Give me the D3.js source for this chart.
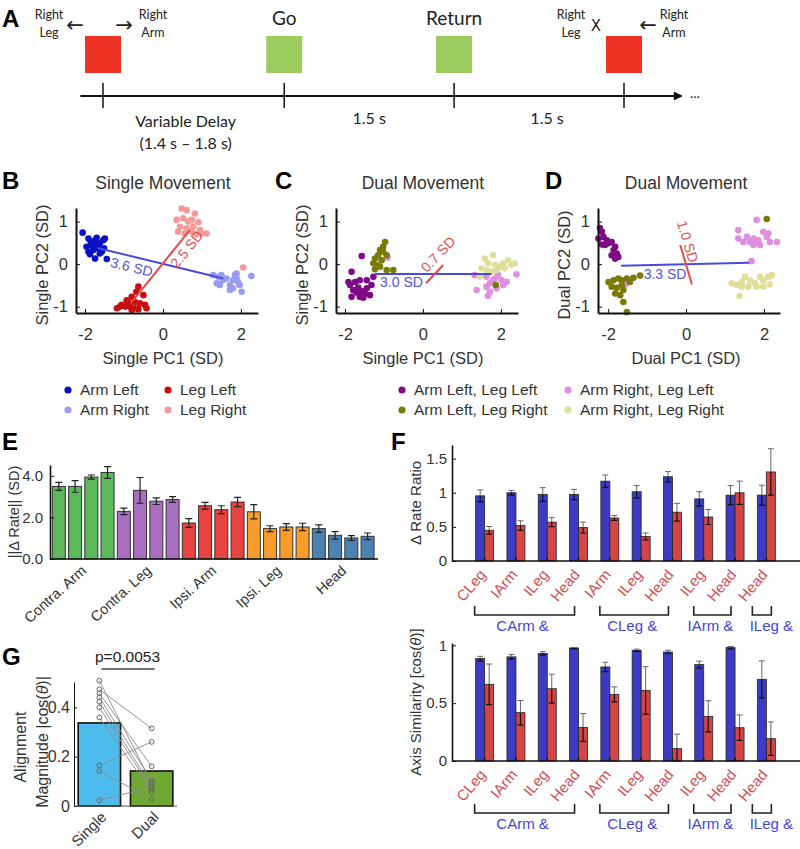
<!DOCTYPE html>
<html>
<head>
<meta charset="utf-8">
<script src="https://cdn.jsdelivr.net/npm/d3@7"></script>
<style>
  body { margin: 0; background: #fff; }
  text { font-family: "Liberation Sans", Arial, sans-serif; fill: #333; }
  .calib { font-family: Lato, "Open Sans", sans-serif; fill: #222; }
  .letter { font-family: "Liberation Sans", Arial, sans-serif; font-weight: bold; font-size: 24px; fill: #000; }
</style>
</head>
<body>
<svg id="fig" width="800" height="849"></svg>
<script>
// ---------------- data ----------------

// A: trial timeline (seconds)
var eventTimes = [0, 1.6, 3.1, 4.6]
var eventNames = ['', 'Go', 'Return', '']
var eventCues = ['red', 'green', 'green', 'red']
var intervalLabels = [['Variable Delay', '(1.4 s \u2013 1.8 s)'], ['1.5 s'], ['1.5 s']]

// B: single movement, single PCs
var bArmLeft = [[-2.06,0.74],[-1.91,0.60],[-1.85,0.52],[-1.74,0.56],[-1.70,0.45],[-1.62,0.49],[-1.53,0.56],[-1.49,0.60],[-1.66,0.37],[-1.79,0.33],[-1.91,0.29],[-1.87,0.23],[-1.74,0.13],[-1.44,0.12],[-1.57,0.29],[-1.51,0.37],[-1.96,0.41],[-1.83,0.45],[-1.62,0.25],[-1.70,0.62]]
var bArmRight = [[1.29,-0.26],[1.42,-0.30],[1.50,-0.26],[1.63,-0.34],[1.38,-0.45],[1.46,-0.49],[1.72,-0.49],[1.85,-0.26],[1.89,-0.34],[1.93,-0.42],[1.97,-0.49],[1.80,-0.57],[2.02,-0.65],[1.72,-0.61],[2.27,-0.28],[1.89,-0.22],[1.54,-0.38],[1.80,-0.38]]
var bLegLeft = [[-0.63,-0.53],[-0.68,-0.65],[-0.50,-0.73],[-0.80,-0.77],[-0.93,-0.85],[-0.72,-0.89],[-0.59,-0.92],[-0.46,-0.96],[-1.06,-0.96],[-0.97,-1.00],[-0.85,-1.00],[-0.72,-1.04],[-0.80,-1.08],[-0.63,-1.06],[-1.10,-1.00],[-0.89,-0.90],[-0.42,-1.04],[-1.18,-1.04]]
var bLegRight = [[0.48,1.31],[0.61,1.27],[0.82,1.19],[0.35,1.04],[0.52,1.08],[0.65,1.00],[0.74,1.04],[0.91,0.99],[0.44,0.88],[0.61,0.84],[0.78,0.88],[0.95,0.80],[1.12,0.72],[0.39,0.76],[0.56,0.72],[0.74,0.76],[0.86,0.70],[0.99,0.72],[2.06,-0.08]]
var bArmAxis = [[-1.68,0.38],[1.55,-0.34]]
var bLegAxis = [[-0.78,-0.87],[0.69,0.80]]
var bArmLabel = {text: '3.6 SD', at: [-0.80,-0.07]}
var bLegLabel = {text: '2.5 SD', at: [0.61,0.35]}

// C: dual movement, single PCs
var cArmLLegL = [[-1.57,0.19],[-1.83,-0.18],[-1.91,-0.42],[-1.87,-0.49],[-1.74,-0.42],[-1.62,-0.38],[-1.44,-0.38],[-1.32,-0.49],[-1.79,-0.61],[-1.70,-0.67],[-1.57,-0.64],[-1.49,-0.69],[-1.62,-0.77],[-1.83,-0.77],[-1.36,-0.73],[-1.53,-0.79],[-1.27,-0.30],[-1.66,-0.55],[-1.44,-0.57]]
var cArmLLegR = [[-0.97,0.52],[-1.02,0.41],[-1.10,0.33],[-1.15,0.21],[-1.23,0.13],[-1.06,0.09],[-1.19,-0.02],[-1.27,0.02],[-1.10,-0.06],[-0.93,-0.14],[-0.76,-0.14],[-0.93,0.21],[-1.02,0.29],[-1.23,-0.12],[1.87,-0.49]]
var cArmRLegL = [[1.33,-0.26],[1.63,-0.30],[1.85,-0.34],[1.93,-0.26],[2.02,-0.38],[1.72,-0.45],[1.63,-0.53],[1.89,-0.57],[2.06,-0.49],[1.38,-0.61],[1.72,-0.65],[1.67,-0.75],[2.40,-0.24],[2.15,-0.42],[1.80,-0.38],[-0.91,0.15]]
var cArmRLegR = [[1.59,0.13],[1.80,0.21],[1.67,0.02],[1.85,-0.02],[1.97,-0.06],[2.06,0.02],[2.19,0.09],[2.27,-0.02],[2.36,0.02],[2.10,-0.10],[1.50,-0.10],[1.63,-0.14],[1.46,-0.30],[1.76,-0.18],[1.89,-0.14]]
var cArmAxis = [[-1.23,-0.235],[1.76,-0.235]]
var cLegAxis = [[0.08,-0.45],[0.52,-0.02]]
var cArmLabel = {text: '3.0 SD', at: [-0.55,-0.43]}
var cLegLabel = {text: '0.7 SD', at: [0.39,0.23]}

// D: dual movement, dual PCs
var dArmLLegL = [[-2.21,0.85],[-2.16,0.76],[-2.25,0.60],[-2.12,0.64],[-2.03,0.56],[-1.99,0.49],[-1.91,0.52],[-1.82,0.41],[-1.86,0.33],[-1.78,0.25],[-1.91,0.21],[-1.74,0.17],[-1.82,0.13],[-2.08,0.45],[-2.16,0.46]]
var dArmLLegR = [[-1.99,-0.42],[-1.86,-0.38],[-1.74,-0.34],[-1.65,-0.38],[-1.52,-0.34],[-1.35,-0.32],[-1.18,-0.27],[-1.91,-0.53],[-1.78,-0.56],[-1.65,-0.49],[-1.61,-0.61],[-1.82,-0.69],[-1.69,-0.73],[-1.61,-0.89],[-1.44,-0.42],[-1.52,-1.13],[2.07,1.06]]
var dArmRLegL = [[1.34,0.80],[1.81,1.04],[1.56,0.64],[1.73,0.60],[1.85,0.56],[1.98,0.76],[2.11,0.72],[2.07,0.64],[1.34,0.60],[1.47,0.52],[1.64,0.52],[1.81,0.49],[1.90,0.45],[2.15,0.52],[2.33,0.52],[1.73,0.45],[1.68,0.07],[-1.55,-0.48]]
var dArmRLegR = [[1.17,-0.45],[1.30,-0.49],[1.43,-0.42],[1.51,-0.30],[1.64,-0.38],[1.77,-0.45],[1.90,-0.30],[1.98,-0.38],[2.11,-0.30],[2.20,-0.26],[1.43,-0.53],[1.60,-0.53],[1.81,-0.53],[1.98,-0.53],[2.15,-0.48],[1.37,-0.75]]
var dArmAxis = [[-1.67,-0.04],[1.62,0.03]]
var dLegAxis = [[-0.15,0.45],[0.15,-0.48]]
var dArmLabel = {text: '3.3 SD', at: [-0.54,-0.24]}
var dLegLabel = {text: '1.0 SD', at: [0.04,0.53]}

var singleNames = ['Arm Left', 'Arm Right', 'Leg Left', 'Leg Right']
var dualNames = ['Arm Left, Leg Left', 'Arm Left, Leg Right', 'Arm Right, Leg Left', 'Arm Right, Leg Right']

// E: ||delta rate|| per effector group
var eGroups = ['Contra. Arm', 'Contra. Leg', 'Ipsi. Arm', 'Ipsi. Leg', 'Head']
var eMeans = [3.49,3.49,3.94,4.16, 2.29,3.30,2.78,2.86, 1.73,2.56,2.37,2.74, 2.27,1.46,1.54,1.54, 1.46,1.14,1.01,1.09]
var eErrs = [0.19,0.28,0.10,0.28, 0.16,0.62,0.16,0.14, 0.21,0.16,0.19,0.22, 0.34,0.14,0.16,0.18, 0.18,0.18,0.11,0.16]

// F: pairwise comparisons
var fPairs = ['CLeg','IArm','ILeg','Head','IArm','ILeg','Head','ILeg','Head','Head']
var fGroupNames = ['CArm &', 'CLeg &', 'IArm &', 'ILeg &']
var fGroupSpans = [[0,3],[4,6],[7,8],[9,9]]
var rateBlue = [0.955,1.0,0.975,0.975,1.17,1.015,1.235,0.91,0.965,0.965]
var rateBlueErr = [0.085,0.035,0.10,0.075,0.09,0.09,0.075,0.105,0.14,0.145]
var rateRed = [0.45,0.52,0.57,0.49,0.63,0.36,0.715,0.645,1.0,1.305]
var rateRedErr = [0.055,0.07,0.065,0.08,0.035,0.05,0.13,0.11,0.17,0.34]
var simBlue = [0.885,0.90,0.93,0.977,0.813,0.957,0.942,0.833,0.98,0.706]
var simBlueErr = [0.02,0.02,0.015,0.005,0.04,0.01,0.015,0.03,0.01,0.16]
var simRed = [0.663,0.418,0.625,0.29,0.576,0.61,0.107,0.386,0.288,0.193]
var simRedErr = [0.175,0.105,0.125,0.12,0.065,0.205,0.125,0.135,0.11,0.145]

// G: alignment magnitude
var gConds = ['Single', 'Dual']
var gMeans = [0.337, 0.142]
var gSingle = [0.508,0.473,0.457,0.441,0.423,0.400,0.359,0.165,0.142,0.023]
var gDual = [0.094,0.315,0.161,0.102,0.077,0.066,0.057,0.260,0.027,0.077]
var gPvalue = 'p=0.0053'

// ---------------- drawing ----------------

var svg = d3.select('#fig')

function letter(t, x, y) {
    svg.append('text').attr('class', 'letter').attr('x', x).attr('y', y).text(t)
}

// matlab style axis: inward ticks, no outer ticks
function styleAxis(g, width) {
    g.select('.domain').attr('stroke', '#111').attr('stroke-width', width || 1.6)
    g.selectAll('.tick line').attr('stroke', '#111')
    g.selectAll('.tick text').attr('fill', '#333').attr('font-family', '"Liberation Sans", Arial, sans-serif')
}

function rotLabel(x, y, t, size) {
    return svg.append('text')
        .attr('transform', 'translate(' + x + ',' + y + ') rotate(-90)')
        .attr('text-anchor', 'middle').attr('dy', '0.35em')
        .style('font-size', size + 'px').text(t)
}

// ----- A -----
letter('A', 2, 27)
var tx = d3.scaleLinear().domain([0, 4.6]).range([103, 624])
var lineY = 96
svg.append('line').attr('x1', tx(-0.2)).attr('x2', tx(5.12) - 6)
    .attr('y1', lineY).attr('y2', lineY).attr('stroke', '#111').attr('stroke-width', 2)
svg.append('path')
    .attr('d', 'M' + tx(5.12) + ',' + lineY + 'l-9,-4.5l0,9z').attr('fill', '#111')
svg.append('text').attr('class', 'calib').attr('x', tx(5.12) + 7).attr('y', lineY + 2)
    .style('font-size', '14px').text('...')

svg.selectAll('.evtick').data(eventTimes).enter().append('line')
    .attr('x1', function (d) { return tx(d) }).attr('x2', function (d) { return tx(d) })
    .attr('y1', lineY - 13).attr('y2', lineY + 12).attr('stroke', '#111').attr('stroke-width', 1.5)

svg.selectAll('.cue').data(eventTimes).enter().append('rect')
    .attr('x', function (d) { return tx(d) - 18 }).attr('y', 36)
    .attr('width', 36).attr('height', 37)
    .attr('fill', function (d, i) { return eventCues[i] === 'red' ? '#ee3224' : '#9ccb5e' })

svg.selectAll('.evname').data(eventTimes).enter().append('text')
    .attr('class', 'calib').attr('x', function (d) { return tx(d) }).attr('y', 25)
    .attr('text-anchor', 'middle').style('font-size', '19px')
    .text(function (d, i) { return eventNames[i] })

intervalLabels.forEach(function (lines, i) {
    var mid = (tx(eventTimes[i]) + tx(eventTimes[i + 1])) / 2 + [-8, 0, 8][i]
    lines.forEach(function (l, j) {
        svg.append('text').attr('class', 'calib').attr('x', mid).attr('y', (i === 0 ? 127 : 124) + j * 22)
            .attr('text-anchor', 'middle').style('font-size', '16px').text(l)
    })
})

// cue instruction labels
function cueText(x, l1, l2) {
    svg.append('text').attr('class', 'calib').attr('x', x).attr('y', 19).attr('text-anchor', 'middle').style('font-size', '12.5px').text(l1)
    svg.append('text').attr('class', 'calib').attr('x', x).attr('y', 37).attr('text-anchor', 'middle').style('font-size', '12.5px').text(l2)
}
cueText(tx(eventTimes[0]) - 54, 'Right', 'Leg')
cueText(tx(eventTimes[0]) + 50, 'Right', 'Arm')
cueText(tx(eventTimes[3]) - 53, 'Right', 'Leg')
cueText(tx(eventTimes[3]) + 50, 'Right', 'Arm')
function sym(x, t, size, y) {
    svg.append('text').attr('x', x).attr('y', y).attr('text-anchor', 'middle')
        .style('font-family', '"DejaVu Sans", sans-serif').style('font-size', size + 'px').style('fill', '#222').text(t)
}
sym(tx(eventTimes[0]) - 28, '\u2190', 21, 32)
sym(tx(eventTimes[0]) + 21, '\u2192', 21, 32)
sym(tx(eventTimes[3]) - 28, 'X', 15, 31)
sym(tx(eventTimes[3]) + 24, '\u2190', 21, 32)

// ----- B, C, D scatter -----
var blueLine = '#4a4ae0', redLine = '#e84848'

function scatter(o) {
    var x = d3.scaleLinear().domain(o.xDomain).range([o.left, o.left + 182])
    var y = d3.scaleLinear().domain([-1.15, 1.32]).range([313, 208])
    var g = svg.append('g')

    o.groups.forEach(function (grp) {
        g.selectAll(null).data(grp.pts).enter().append('circle')
            .attr('cx', function (d) { return x(d[0]) }).attr('cy', function (d) { return y(d[1]) })
            .attr('r', 3.3).attr('fill', grp.color)
    })

    var ln = d3.line().x(function (d) { return x(d[0]) }).y(function (d) { return y(d[1]) })
    ;[[o.armAxis, blueLine, o.armLabel, '#5252dc'], [o.legAxis, redLine, o.legLabel, '#e05050']].forEach(function (a) {
        g.append('path').attr('d', ln(a[0])).attr('stroke', a[1]).attr('stroke-width', 2).attr('fill', 'none')
        var ang = Math.atan2(y(a[0][1][1]) - y(a[0][0][1]), x(a[0][1][0]) - x(a[0][0][0])) * 180 / Math.PI
        if (ang > 90) ang -= 180
        if (ang < -90) ang += 180
        if (Math.abs(ang) < 2) ang = 0
        g.append('text')
            .attr('transform', 'translate(' + x(a[2].at[0]) + ',' + y(a[2].at[1]) + ') rotate(' + ang + ')')
            .attr('text-anchor', 'middle').attr('dy', '0.35em')
            .style('font-size', '14px').style('fill', a[3]).text(a[2].text)
    })

    var gx = svg.append('g').attr('transform', 'translate(0,313)')
        .call(d3.axisBottom(x).tickValues([-2, 0, 2]).tickSizeInner(-4).tickSizeOuter(0).tickPadding(15)
            .tickFormat(function (d) { return String(d) }))
    gx.selectAll('.tick text').style('font-size', '16.5px')
    styleAxis(gx, 2)
    var gy = svg.append('g').attr('transform', 'translate(' + o.left + ',0)')
        .call(d3.axisLeft(y).tickValues([-1, 0, 1]).tickSizeInner(-4).tickSizeOuter(0).tickPadding(8)
            .tickFormat(function (d) { return String(d) }))
    gy.selectAll('.tick text').style('font-size', '16.5px')
    styleAxis(gy, 2)

    svg.append('text').attr('x', x(0)).attr('y', 189).attr('text-anchor', 'middle')
        .style('font-size', '17.5px').text(o.title)
    svg.append('text').attr('x', x(0)).attr('y', 364).attr('text-anchor', 'middle')
        .style('font-size', '16.5px').text(o.xLabel)
    rotLabel(o.left - 34, 265, o.yLabel, 16.5)
}

var cSingle = ['#0c12c4', '#9a9cf0', '#c80f0f', '#f59a9a']
var cDual = ['#7f0a85', '#7a7a08', '#e08ee0', '#dfdf9c']

letter('B', 2, 189)
scatter({
    left: 76, xDomain: [-2.23, 2.44], title: 'Single Movement',
    xLabel: 'Single PC1 (SD)', yLabel: 'Single PC2 (SD)',
    groups: [{pts: bArmRight, color: cSingle[1]}, {pts: bLegRight, color: cSingle[3]},
             {pts: bArmLeft, color: cSingle[0]}, {pts: bLegLeft, color: cSingle[2]}],
    armAxis: bArmAxis, legAxis: bLegAxis, armLabel: bArmLabel, legLabel: bLegLabel
})
letter('C', 275, 189)
scatter({
    left: 336, xDomain: [-2.23, 2.44], title: 'Dual Movement',
    xLabel: 'Single PC1 (SD)', yLabel: 'Single PC2 (SD)',
    groups: [{pts: cArmRLegL, color: cDual[2]}, {pts: cArmRLegR, color: cDual[3]},
             {pts: cArmLLegL, color: cDual[0]}, {pts: cArmLLegR, color: cDual[1]}],
    armAxis: cArmAxis, legAxis: cLegAxis, armLabel: cArmLabel, legLabel: cLegLabel
})
letter('D', 545, 189)
scatter({
    left: 598, xDomain: [-2.26, 2.41], title: 'Dual Movement',
    xLabel: 'Dual PC1 (SD)', yLabel: 'Dual PC2 (SD)',
    groups: [{pts: dArmRLegL, color: cDual[2]}, {pts: dArmRLegR, color: cDual[3]},
             {pts: dArmLLegL, color: cDual[0]}, {pts: dArmLLegR, color: cDual[1]}],
    armAxis: dArmAxis, legAxis: dLegAxis, armLabel: dArmLabel, legLabel: dLegLabel
})

function legend(names, colors, cols) {
    names.forEach(function (n, i) {
        var cx = cols[Math.floor(i / 2)], cy = 390 + (i % 2) * 20
        svg.append('circle').attr('cx', cx).attr('cy', cy).attr('r', 3.6).attr('fill', colors[i])
        svg.append('text').attr('x', cx + 12).attr('y', cy).attr('dy', '0.35em')
            .style('font-size', '15.5px').text(n)
    })
}
legend(singleNames, cSingle, [68, 168])
legend(dualNames, cDual, [402, 568])

// ----- E -----
letter('E', 2, 450)
var eColors = ['#5cb85a', '#a86ebf', '#e84340', '#fa9c2c', '#4a82b3']
var ex = d3.scaleBand().domain(d3.range(eMeans.length)).range([50.7, 375.7]).paddingInner(0.2).paddingOuter(0.1)
var ey = d3.scaleLinear().domain([0, 4.52]).range([559, 465])
svg.selectAll('.ebar').data(eMeans).enter().append('rect')
    .attr('x', function (d, i) { return ex(i) }).attr('width', ex.bandwidth())
    .attr('y', function (d) { return ey(d) }).attr('height', function (d) { return ey(0) - ey(d) })
    .attr('fill', function (d, i) { return eColors[Math.floor(i / 4)] })
    .attr('stroke', '#333').attr('stroke-width', 1)
eMeans.forEach(function (m, i) {
    var c = ex(i) + ex.bandwidth() / 2
    var lo = ey(m - eErrs[i]), hi = ey(m + eErrs[i])
    svg.append('path').attr('d', 'M' + c + ',' + lo + 'V' + hi + 'M' + (c - 3.5) + ',' + lo + 'h7M' + (c - 3.5) + ',' + hi + 'h7')
        .attr('stroke', '#222').attr('stroke-width', 1.2).attr('fill', 'none')
})
var eyAx = svg.append('g').attr('transform', 'translate(50,0)')
    .call(d3.axisLeft(ey).tickValues([0, 2, 4]).tickSizeInner(-4).tickSizeOuter(0).tickPadding(7))
eyAx.selectAll('.tick text').style('font-size', '15px')
styleAxis(eyAx, 1.6)
svg.append('line').attr('x1', 50).attr('x2', 378).attr('y1', 559).attr('y2', 559).attr('stroke', '#111').attr('stroke-width', 1.6)
rotLabel(14, 512, '||\u0394 Rate|| (SD)', 14.5)
eGroups.forEach(function (n, k) {
    var c = (ex(k * 4) + ex(k * 4 + 3) + ex.bandwidth()) / 2
    svg.append('text').attr('transform', 'translate(' + (c + 4) + ',572) rotate(-42)')
        .attr('text-anchor', 'end').style('font-size', '14.5px').text(n)
})

// ----- F -----
letter('F', 391, 450)
var fx = d3.scaleBand().domain(d3.range(fPairs.length)).range([469, 782])
var fBlue = '#3b3bc6', fRed = '#d44646'

function errBar(g, c, m, e, y) {
    var lo = y(Math.max(m - e, 0)), mid = y(m), hi = y(m + e)
    g.append('path').attr('d', 'M' + c + ',' + mid + 'V' + hi + 'M' + (c - 3) + ',' + hi + 'h6')
        .attr('stroke', '#666').attr('stroke-width', 1).attr('fill', 'none')
    g.append('path').attr('d', 'M' + c + ',' + mid + 'V' + lo + 'M' + (c - 3) + ',' + lo + 'h6')
        .attr('stroke', '#111').attr('stroke-width', 1.2).attr('fill', 'none')
}

function pairPanel(o) {
    var y = d3.scaleLinear().domain([0, o.yMax]).range([o.bottom, o.top])
    var g = svg.append('g')
    var step = fx.step()
    function mid(i) { return fx(i) + step / 2 }
    ;[[o.blue, o.blueErr, fBlue, -9], [o.red, o.redErr, fRed, 0]].forEach(function (s) {
        g.selectAll(null).data(s[0]).enter().append('rect')
            .attr('x', function (d, i) { return mid(i) + s[3] }).attr('width', 9)
            .attr('y', function (d) { return y(d) }).attr('height', function (d) { return y(0) - y(d) })
            .attr('fill', s[2]).attr('stroke', '#222').attr('stroke-width', 0.8)
        s[0].forEach(function (m, i) { errBar(g, mid(i) + s[3] + 4.5, m, s[1][i], y) })
    })
    // small ticks at each pair
    fPairs.forEach(function (p, i) {
        g.append('line').attr('x1', mid(i)).attr('x2', mid(i))
            .attr('y1', o.bottom).attr('y2', o.bottom - 3).attr('stroke', '#111').attr('stroke-width', 1.5)
    })
    var ay = svg.append('g').attr('transform', 'translate(452,0)')
        .call(d3.axisLeft(y).tickValues(o.ticks).tickSizeInner(-4).tickSizeOuter(0).tickPadding(5)
            .tickFormat(function (d) { return String(d) }))
    ay.selectAll('.tick text').style('font-size', '15px')
    styleAxis(ay, 1.6)
    svg.append('line').attr('x1', 452).attr('x2', 800).attr('y1', o.bottom).attr('y2', o.bottom)
        .attr('stroke', '#111').attr('stroke-width', 1.6)

    fPairs.forEach(function (p, i) {
        svg.append('text').attr('transform', 'translate(' + (mid(i) + 2) + ',' + (o.bottom + 14) + ') rotate(-50)')
            .attr('text-anchor', 'end').style('font-size', '15px').style('fill', '#d24f4f').text(p)
    })
    fGroupNames.forEach(function (n, k) {
        var s = fGroupSpans[k]
        var a = mid(s[0]) - 10, b = mid(s[1]) - 4, lx = (a + b) / 2 - 2
        if (s[0] === s[1]) { a = mid(s[0]) - 14; b = mid(s[0]) + 5; lx = b }
        svg.append('path').attr('d', 'M' + a + ',' + o.brTop + 'V' + (o.brTop + 9) + 'H' + b + 'V' + o.brTop)
            .attr('stroke', '#222').attr('stroke-width', 1.6).attr('fill', 'none')
        svg.append('text').attr('x', lx).attr('y', o.brTop + 25).attr('text-anchor', 'middle')
            .style('font-size', '15px').style('fill', '#4646d6').text(n)
    })
    var lab = rotLabel(416, (o.top + o.bottom) / 2, '', 15)
    o.yLabel.forEach(function (part) {
        lab.append('tspan').style('font-style', part[1] ? 'italic' : 'normal').text(part[0])
    })
}

pairPanel({ top: 445, bottom: 561, yMax: 1.7, ticks: [0, 0.5, 1, 1.5], brTop: 606,
    blue: rateBlue, blueErr: rateBlueErr, red: rateRed, redErr: rateRedErr,
    yLabel: [['\u0394 Rate Ratio', false]] })
pairPanel({ top: 643, bottom: 761, yMax: 1.02, ticks: [0, 0.5, 1], brTop: 804,
    blue: simBlue, blueErr: simBlueErr, red: simRed, redErr: simRedErr,
    yLabel: [['Axis Similarity [cos(', false], ['\u03b8', true], [')]', false]] })

// ----- G -----
letter('G', 2, 665)
var gx = d3.scaleBand().domain(gConds).range([74, 177]).paddingInner(0.19).paddingOuter(0.08)
var gy = d3.scaleLinear().domain([0, 0.503]).range([806, 682])
svg.selectAll('.gbar').data(gMeans).enter().append('rect')
    .attr('x', function (d, i) { return gx(gConds[i]) }).attr('width', gx.bandwidth())
    .attr('y', function (d) { return gy(d) }).attr('height', function (d) { return gy(0) - gy(d) })
    .attr('fill', function (d, i) { return i === 0 ? '#4dbbec' : '#70a834' })
    .attr('stroke', '#111').attr('stroke-width', 1.6)
var sx = gx('Single') + gx.bandwidth() / 2, dx = gx('Dual') + gx.bandwidth() / 2
gSingle.forEach(function (s, i) {
    svg.append('line').attr('x1', sx).attr('y1', gy(s)).attr('x2', dx).attr('y2', gy(gDual[i]))
        .attr('stroke', '#8a8a8a').attr('stroke-width', 0.9)
})
svg.selectAll('.gps').data(gSingle).enter().append('circle')
    .attr('cx', sx).attr('cy', function (d) { return gy(d) }).attr('r', 2.4)
    .attr('fill', 'none').attr('stroke', '#666').attr('stroke-width', 1)
svg.selectAll('.gpd').data(gDual).enter().append('circle')
    .attr('cx', dx).attr('cy', function (d) { return gy(d) }).attr('r', 2.4)
    .attr('fill', 'none').attr('stroke', '#666').attr('stroke-width', 1)
var gAx = svg.append('g').attr('transform', 'translate(74,0)')
    .call(d3.axisLeft(gy).tickValues([0, 0.2, 0.4]).tickSizeInner(-3).tickSizeOuter(0).tickPadding(4)
        .tickFormat(function (d) { return String(d) }))
gAx.selectAll('.tick text').style('font-size', '16px')
styleAxis(gAx, 1)
svg.append('line').attr('x1', 74).attr('x2', 177).attr('y1', 806).attr('y2', 806).attr('stroke', '#555').attr('stroke-width', 1)
svg.append('text').attr('x', (sx + dx) / 2 + 2).attr('y', 662).attr('text-anchor', 'middle')
    .style('font-size', '15.5px').style('fill', '#222').text(gPvalue)
svg.append('line').attr('x1', sx + 2).attr('x2', dx + 3).attr('y1', 669).attr('y2', 669).attr('stroke', '#444').attr('stroke-width', 1.3)
rotLabel(20, 747, 'Alignment', 16)
var gl = rotLabel(42, 742, '', 16)
gl.append('tspan').text('Magnitude |cos(')
gl.append('tspan').style('font-style', 'italic').text('\u03b8')
gl.append('tspan').text(')|')
gConds.forEach(function (c) {
    svg.append('text').attr('transform', 'translate(' + (gx(c) + gx.bandwidth() / 2 + 8) + ',818) rotate(-45)')
        .attr('text-anchor', 'end').style('font-size', '15px').text(c)
})
</script>
</body>
</html>
